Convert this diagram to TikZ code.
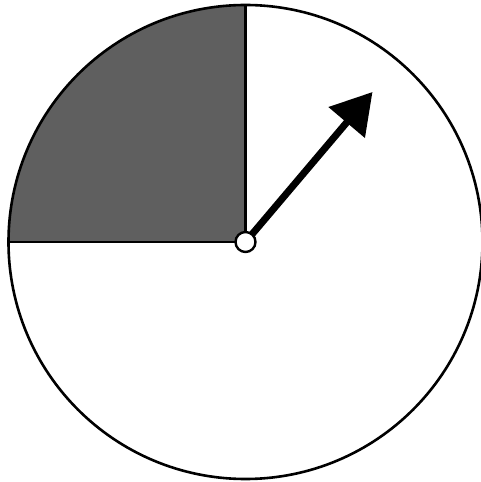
\documentclass[tikz,border=0pt]{standalone}
\usetikzlibrary{arrows.meta,calc}
\definecolor{sectorgray}{HTML}{5F5F5F}
\tikzset{
  rim/.style={draw=black, line width=2.6pt},
  pointer/.style={line width=7pt, -{Triangle[length=40pt,width=46pt]}},
  hub/.style={circle, draw=black, fill=white, line width=2.4pt, minimum size=20pt, inner sep=0pt}
}
\begin{document}
\begin{tikzpicture}[x=1pt,y=1pt]
\useasboundingbox (0,0) rectangle (480,482);
\coordinate (o) at (245.5,240);
\coordinate (tip) at (372.5,390);
\coordinate (top) at ($(o)+(0,237)$);
\coordinate (left) at ($(o)+(-237,0)$);
\fill[sectorgray] (o) -- (top) arc[start angle=90, end angle=180, radius=237] -- cycle;
\draw[rim] (o) circle[radius=237];
\draw[line width=2.6pt] (top) -- (o) -- (left);
\draw[pointer] (o) -- (tip);
\node[hub] (c) at (o) {};
\end{tikzpicture}
\end{document}
